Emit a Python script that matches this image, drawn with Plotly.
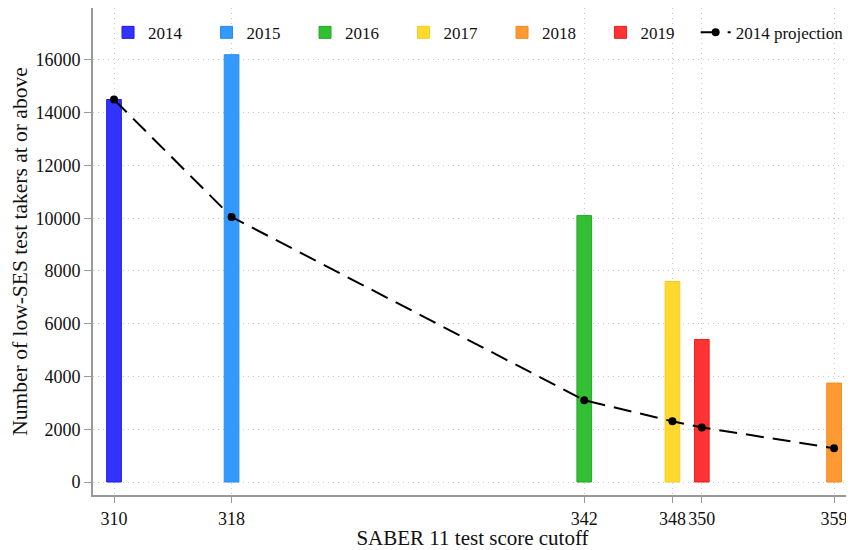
import plotly.graph_objects as go

years = ["2014", "2015", "2016", "2017", "2018", "2019"]
cutoffs = [310, 318, 342, 348, 359, 350]
counts = [14500, 16200, 10100, 7600, 3750, 5400]
colors = ["#3333ff", "#3399ff", "#33bf33", "#ffd92f", "#ff9933", "#ff3333"]
edges = ["#1a1aee", "#2a8cf0", "#22aa22", "#f5cc20", "#f58a20", "#f02020"]

proj_x = [310, 318, 342, 348, 350, 359]
proj_y = [14500, 10050, 3100, 2300, 2070, 1280]

xticks = [310, 318, 342, 348, 350, 359]
yticks = [0, 2000, 4000, 6000, 8000, 10000, 12000, 14000, 16000]

fig = go.Figure()
for yr, cx, cy, c, e in zip(years, cutoffs, counts, colors, edges):
    fig.add_trace(go.Bar(x=[cx], y=[cy], name=yr, width=1.0,
                         marker=dict(color=c, line=dict(color=e, width=1))))
fig.add_trace(go.Scatter(x=proj_x, y=proj_y, name="2014 projection", mode="lines+markers",
                         legend="legend2",
                         line=dict(color="black", width=2, dash="18px,9px"),
                         marker=dict(color="black", size=8)))

font = "Liberation Serif"
fig.update_layout(
    width=846, height=542, barmode="overlay",
    margin=dict(l=85, r=2, t=0, b=55),
    plot_bgcolor="white", paper_bgcolor="white",
    font=dict(family=font, size=18, color="#111"),
    legend=dict(orientation="h", x=0.0198, y=0.986, xanchor="left", yanchor="top",
                font=dict(size=17), bgcolor="rgba(0,0,0,0)",
                entrywidth=53.5, entrywidthmode="pixels", itemwidth=30),
    legend2=dict(orientation="h", x=0.794, y=0.986, xanchor="left", yanchor="top",
                 font=dict(size=17), bgcolor="rgba(0,0,0,0)", itemwidth=30),
    xaxis=dict(range=[308.57, 360.22], tickvals=xticks, ticks="outside", ticklen=6,
               tickcolor="#999", showline=True, linecolor="#999", linewidth=2,
               showgrid=True, gridcolor="#c8c8c8", griddash="1px,4px", gridwidth=1,
               zeroline=False, tickfont=dict(size=18), automargin=False,
               title=dict(text="SABER 11 test score cutoff", font=dict(size=21), standoff=6)),
    yaxis=dict(range=[-493, 17970], tickvals=yticks, ticks="outside", ticklen=7,
               tickcolor="#999", showline=True, linecolor="#999", linewidth=2,
               showgrid=True, gridcolor="#c8c8c8", griddash="1px,4px", gridwidth=1,
               zeroline=False, tickfont=dict(size=18), tickformat="d", automargin=False,
               title=dict(text="Number of low-SES test takers at or above", font=dict(size=21.5), standoff=2)),
)
fig.write_html("out.html")
